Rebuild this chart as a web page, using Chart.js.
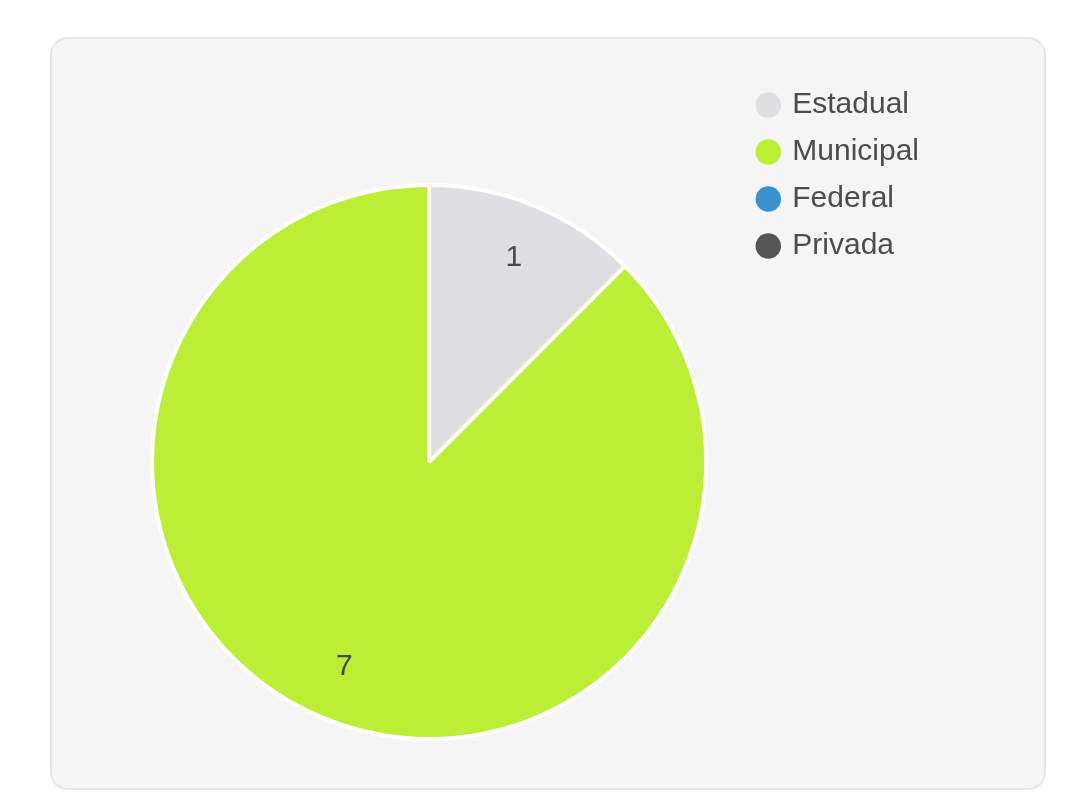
<!DOCTYPE html>
<html>
<head>
<meta charset="utf-8">
<script src="https://cdn.jsdelivr.net/npm/chart.js@4.4.0/dist/chart.umd.min.js"></script>
<style>
    html, body {
        margin: 0;
        padding: 0;
        background: #ffffff;
        overflow: hidden;
        width: 1068px;
        height: 799px;
    }
    .panel {
        position: absolute;
        left: 50px;
        top: 37px;
        width: 992px;
        height: 749px;
        background: #f5f5f5;
        border: 2px solid #e6e6e6;
        border-radius: 18px;
    }
    .chart-wrap {
        position: absolute;
        left: 0;
        top: 0;
        width: 1068px;
        height: 924px;
    }
</style>
</head>
<body>
<div class="panel"></div>
<div class="chart-wrap">
    <canvas id="redeChart" width="1068" height="924"></canvas>
</div>
<script>
const categories = ['Estadual', 'Municipal', 'Federal', 'Privada'];
const counts = [1, 7, 0, 0];
const sliceColors = ['#dfdfe2', '#bcee35', '#3a93cf', '#555555'];

// draws each slice's value inside the slice
const sliceValues = {
    id: 'sliceValues',
    afterDatasetsDraw(chart) {
        const ctx = chart.ctx;
        const meta = chart.getDatasetMeta(0);
        ctx.save();
        ctx.font = '30px "Liberation Sans", Arial, sans-serif';
        ctx.fillStyle = '#4a4a4a';
        ctx.textAlign = 'center';
        ctx.textBaseline = 'middle';
        meta.data.forEach((arc, i) => {
            const value = chart.data.datasets[0].data[i];
            if (!value) return;
            const p = arc.getProps(['x', 'y', 'startAngle', 'endAngle', 'outerRadius'], true);
            const mid = (p.startAngle + p.endAngle) / 2;
            const r = p.outerRadius * 0.8;
            ctx.fillText(String(value), p.x + Math.cos(mid) * r, p.y + Math.sin(mid) * r);
        });
        ctx.restore();
    }
};

document.addEventListener('DOMContentLoaded', () => {
    const ctx = document.getElementById('redeChart').getContext('2d');
    const defaultLabels = Chart.overrides.pie.plugins.legend.labels.generateLabels;

    new Chart(ctx, {
        type: 'pie',
        data: {
            labels: categories,
            datasets: [{
                data: counts,
                backgroundColor: sliceColors,
                borderColor: '#ffffff',
                borderWidth: 4,
                radius: 277
            }]
        },
        options: {
            responsive: false,
            animation: false,
            layout: {
                padding: { left: 116, right: 139, top: 73, bottom: 73 }
            },
            plugins: {
                legend: {
                    position: 'right',
                    align: 'start',
                    labels: {
                        usePointStyle: true,
                        pointStyle: 'circle',
                        boxWidth: 18,
                        boxHeight: 18,
                        padding: 17,
                        color: '#4c4c4c',
                        font: { size: 30, family: '"Liberation Sans", Arial, sans-serif' },
                        generateLabels(chart) {
                            return defaultLabels(chart).map(item => {
                                item.lineWidth = 0;
                                return item;
                            });
                        }
                    }
                },
                tooltip: { enabled: false }
            }
        },
        plugins: [sliceValues]
    });
});
</script>
</body>
</html>
